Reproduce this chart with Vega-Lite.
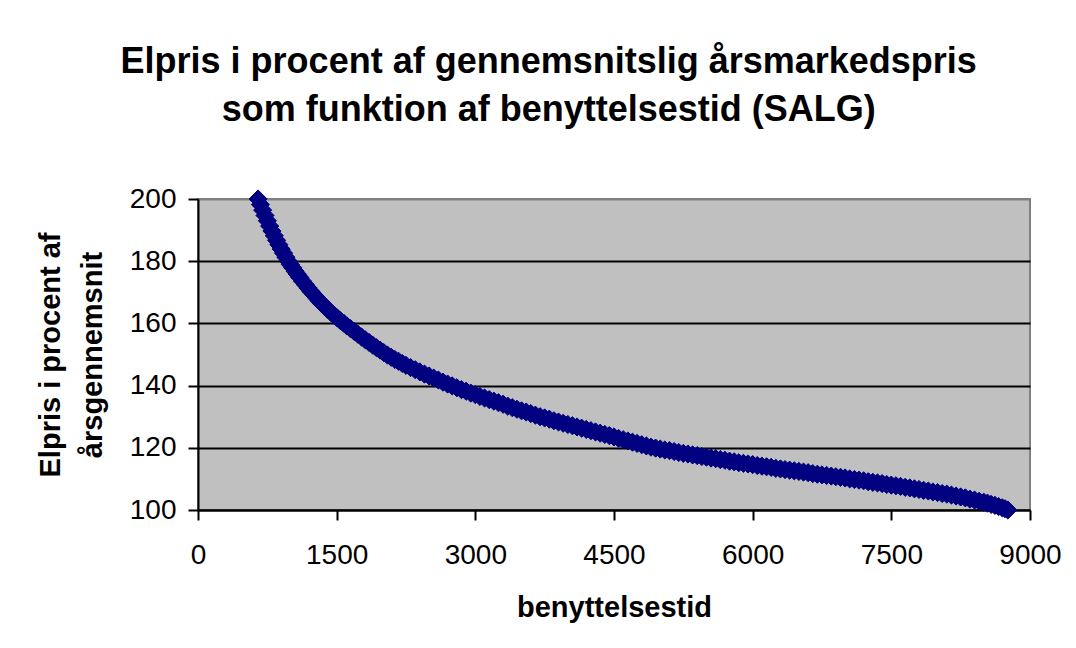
{
  "$schema": "https://vega.github.io/schema/vega-lite/v6.json",
  "width": 832,
  "height": 311,
  "autosize": {"type": "none"},
  "padding": {"left": 198, "top": 199, "right": 46, "bottom": 138},
  "background": "white",
  "title": {
    "text": ["Elpris i procent af gennemsnitslig årsmarkedspris", "som funktion af benyttelsestid (SALG)"],
    "font": "Liberation Sans",
    "fontSize": 36,
    "fontWeight": "bold",
    "color": "black",
    "anchor": "middle",
    "frame": "bounds",
    "lineHeight": 48,
    "offset": 56
  },
  "data": {
    "values": [
      {"t": 650, "p": 200.0}, {"t": 675, "p": 198.2}, {"t": 700, "p": 196.4}, {"t": 725, "p": 194.7},
      {"t": 750, "p": 193.0}, {"t": 775, "p": 191.3}, {"t": 800, "p": 189.7}, {"t": 825, "p": 188.2},
      {"t": 850, "p": 186.7}, {"t": 875, "p": 185.3}, {"t": 900, "p": 183.9}, {"t": 925, "p": 182.6},
      {"t": 950, "p": 181.3}, {"t": 977, "p": 180.0}, {"t": 1000, "p": 178.9}, {"t": 1025, "p": 177.9},
      {"t": 1050, "p": 176.8}, {"t": 1075, "p": 175.8}, {"t": 1100, "p": 174.8}, {"t": 1130, "p": 173.6},
      {"t": 1160, "p": 172.5}, {"t": 1190, "p": 171.4}, {"t": 1220, "p": 170.3}, {"t": 1250, "p": 169.3},
      {"t": 1280, "p": 168.3}, {"t": 1310, "p": 167.3}, {"t": 1340, "p": 166.4}, {"t": 1370, "p": 165.5},
      {"t": 1400, "p": 164.6}, {"t": 1435, "p": 163.6}, {"t": 1470, "p": 162.7}, {"t": 1505, "p": 161.8},
      {"t": 1540, "p": 160.9}, {"t": 1575, "p": 160.1}, {"t": 1610, "p": 159.2}, {"t": 1650, "p": 158.3},
      {"t": 1690, "p": 157.4}, {"t": 1730, "p": 156.5}, {"t": 1770, "p": 155.6}, {"t": 1810, "p": 154.7},
      {"t": 1850, "p": 153.9}, {"t": 1890, "p": 153.0}, {"t": 1930, "p": 152.2}, {"t": 1970, "p": 151.4},
      {"t": 2010, "p": 150.6}, {"t": 2050, "p": 149.8}, {"t": 2090, "p": 149.1}, {"t": 2130, "p": 148.4},
      {"t": 2170, "p": 147.8}, {"t": 2210, "p": 147.1}, {"t": 2250, "p": 146.5}, {"t": 2300, "p": 145.8},
      {"t": 2350, "p": 145.1}, {"t": 2400, "p": 144.4}, {"t": 2450, "p": 143.7}, {"t": 2500, "p": 143.1},
      {"t": 2550, "p": 142.4}, {"t": 2600, "p": 141.8}, {"t": 2650, "p": 141.1}, {"t": 2700, "p": 140.5},
      {"t": 2750, "p": 139.9}, {"t": 2800, "p": 139.3}, {"t": 2850, "p": 138.7}, {"t": 2900, "p": 138.2},
      {"t": 2950, "p": 137.6}, {"t": 3000, "p": 137.1}, {"t": 3050, "p": 136.5}, {"t": 3100, "p": 136.0},
      {"t": 3150, "p": 135.5}, {"t": 3200, "p": 135.0}, {"t": 3250, "p": 134.5}, {"t": 3300, "p": 134.0},
      {"t": 3350, "p": 133.4}, {"t": 3400, "p": 132.9}, {"t": 3450, "p": 132.4}, {"t": 3500, "p": 131.9},
      {"t": 3550, "p": 131.5}, {"t": 3600, "p": 131.0}, {"t": 3650, "p": 130.5}, {"t": 3700, "p": 130.0},
      {"t": 3750, "p": 129.6}, {"t": 3800, "p": 129.2}, {"t": 3850, "p": 128.7}, {"t": 3900, "p": 128.3},
      {"t": 3950, "p": 127.9}, {"t": 4000, "p": 127.5}, {"t": 4050, "p": 127.1}, {"t": 4100, "p": 126.7},
      {"t": 4150, "p": 126.3}, {"t": 4200, "p": 125.9}, {"t": 4250, "p": 125.5}, {"t": 4300, "p": 125.1},
      {"t": 4350, "p": 124.7}, {"t": 4400, "p": 124.3}, {"t": 4450, "p": 123.9}, {"t": 4500, "p": 123.5},
      {"t": 4550, "p": 123.0}, {"t": 4600, "p": 122.6}, {"t": 4650, "p": 122.2}, {"t": 4700, "p": 121.8},
      {"t": 4750, "p": 121.4}, {"t": 4800, "p": 121.0}, {"t": 4850, "p": 120.6}, {"t": 4900, "p": 120.2},
      {"t": 4950, "p": 119.9}, {"t": 5000, "p": 119.6}, {"t": 5050, "p": 119.3}, {"t": 5100, "p": 119.1},
      {"t": 5150, "p": 118.8}, {"t": 5200, "p": 118.5}, {"t": 5250, "p": 118.2}, {"t": 5300, "p": 118.0},
      {"t": 5350, "p": 117.7}, {"t": 5400, "p": 117.5}, {"t": 5450, "p": 117.2}, {"t": 5500, "p": 117.0},
      {"t": 5550, "p": 116.7}, {"t": 5600, "p": 116.5}, {"t": 5650, "p": 116.2}, {"t": 5700, "p": 116.0},
      {"t": 5750, "p": 115.7}, {"t": 5800, "p": 115.5}, {"t": 5850, "p": 115.2}, {"t": 5900, "p": 115.0},
      {"t": 5950, "p": 114.8}, {"t": 6000, "p": 114.6}, {"t": 6050, "p": 114.3}, {"t": 6100, "p": 114.1},
      {"t": 6150, "p": 113.9}, {"t": 6200, "p": 113.7}, {"t": 6250, "p": 113.4}, {"t": 6300, "p": 113.2},
      {"t": 6350, "p": 113.0}, {"t": 6400, "p": 112.8}, {"t": 6450, "p": 112.6}, {"t": 6500, "p": 112.4},
      {"t": 6550, "p": 112.2}, {"t": 6600, "p": 112.0}, {"t": 6650, "p": 111.7}, {"t": 6700, "p": 111.5},
      {"t": 6750, "p": 111.3}, {"t": 6800, "p": 111.1}, {"t": 6850, "p": 110.9}, {"t": 6900, "p": 110.7},
      {"t": 6950, "p": 110.5}, {"t": 7000, "p": 110.3}, {"t": 7050, "p": 110.0}, {"t": 7100, "p": 109.8},
      {"t": 7150, "p": 109.6}, {"t": 7200, "p": 109.4}, {"t": 7250, "p": 109.1}, {"t": 7300, "p": 108.9},
      {"t": 7350, "p": 108.7}, {"t": 7400, "p": 108.5}, {"t": 7450, "p": 108.2}, {"t": 7500, "p": 108.0},
      {"t": 7550, "p": 107.8}, {"t": 7600, "p": 107.6}, {"t": 7650, "p": 107.3}, {"t": 7700, "p": 107.1},
      {"t": 7750, "p": 106.8}, {"t": 7800, "p": 106.6}, {"t": 7850, "p": 106.3}, {"t": 7900, "p": 106.1},
      {"t": 7950, "p": 105.8}, {"t": 8000, "p": 105.6}, {"t": 8050, "p": 105.3}, {"t": 8100, "p": 105.1},
      {"t": 8150, "p": 104.8}, {"t": 8200, "p": 104.5}, {"t": 8250, "p": 104.2}, {"t": 8300, "p": 103.9},
      {"t": 8350, "p": 103.5}, {"t": 8400, "p": 103.2}, {"t": 8450, "p": 102.8}, {"t": 8500, "p": 102.5},
      {"t": 8540, "p": 102.2}, {"t": 8580, "p": 101.8}, {"t": 8620, "p": 101.5}, {"t": 8660, "p": 101.1},
      {"t": 8700, "p": 100.7}, {"t": 8730, "p": 100.4}, {"t": 8760, "p": 100.0}
    ]
  },
  "mark": {"type": "point", "shape": "diamond", "filled": true, "size": 330, "color": "#000080", "stroke": "#000080", "strokeWidth": 1, "opacity": 1, "clip": false},
  "encoding": {
    "x": {
      "field": "t",
      "type": "quantitative",
      "scale": {"domain": [0, 9000], "nice": false, "zero": false},
      "axis": {
        "title": "benyttelsestid",
        "values": [0, 1500, 3000, 4500, 6000, 7500, 9000],
        "format": "d",
        "grid": false,
        "labelFlush": false,
        "labelOverlap": false,
        "tickSize": 10,
        "labelPadding": 21,
        "titlePadding": 24
      }
    },
    "y": {
      "field": "p",
      "type": "quantitative",
      "scale": {"domain": [100, 200], "nice": false, "zero": false},
      "axis": {
        "title": ["Elpris i procent af", "årsgennemsnit"],
        "values": [100, 120, 140, 160, 180, 200],
        "format": "d",
        "grid": true,
        "gridColor": {"condition": {"test": "datum.value == 200", "value": "#808080"}, "value": "black"},
        "labelFlush": false,
        "labelOverlap": false,
        "tickSize": 10,
        "labelPadding": 12,
        "titlePadding": 22,
        "titleLineHeight": 42
      }
    }
  },
  "config": {
    "view": {"fill": "#C0C0C0", "stroke": "#808080", "strokeWidth": 2},
    "axis": {
      "labelFont": "Liberation Sans",
      "labelFontSize": 28,
      "labelColor": "black",
      "titleFont": "Liberation Sans",
      "titleFontSize": 29,
      "titleFontWeight": "bold",
      "titleColor": "black",
      "domainColor": "black",
      "domainWidth": 2,
      "tickColor": "black",
      "tickWidth": 2,
      "gridWidth": 2,
      "gridOpacity": 1
    }
  }
}
